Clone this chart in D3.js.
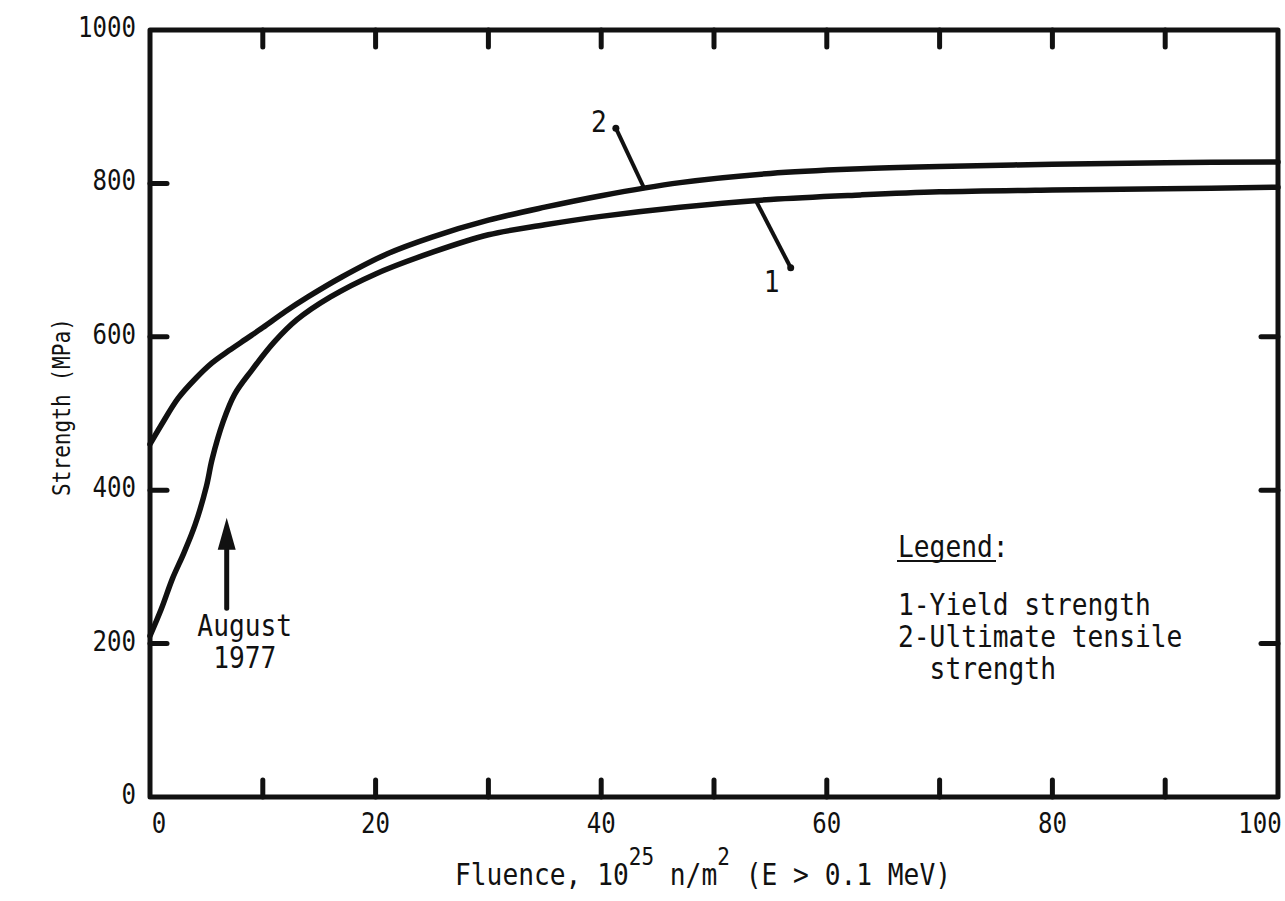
<!DOCTYPE html>
<html>
<head>
<meta charset="utf-8">
<script src="https://cdn.jsdelivr.net/npm/d3@7/dist/d3.min.js"></script>
<style>
  html, body { margin: 0; padding: 0; background: #fff; }
  svg { display: block; }
  text { font-family: "DejaVu Sans Mono", "Liberation Mono", monospace; fill: #111; }
</style>
</head>
<body>
<svg id="chart" width="1285" height="901"></svg>
<script>
// Fluence (10^25 n/m^2) and strength (MPa) along each curve
const utsFluence = [0, 1, 2.5, 4, 5.5, 7, 8.5, 10, 12, 14, 17, 21, 25, 30, 35, 40, 47, 55, 63, 70, 80, 90, 100];
const utsStrength = [460, 485, 520, 545, 566, 582, 597, 612, 633, 652, 678, 708, 730, 752, 769, 784, 801, 813, 819, 822, 825, 827, 828];

const yieldFluence = [0, 1, 2, 3, 4, 5, 5.5, 6.5, 7.5, 9, 11, 13, 16, 20, 25, 30, 35, 40, 47, 55, 63, 70, 80, 90, 100];
const yieldStrength = [210, 245, 285, 318, 355, 405, 440, 490, 525, 556, 593, 622, 652, 682, 710, 733, 746, 757, 769, 779, 785, 789, 791.5, 793, 795];

const xTickValues = [0, 20, 40, 60, 80, 100];
const xMinorTicks = [10, 20, 30, 40, 50, 60, 70, 80, 90];
const yTickValues = [0, 200, 400, 600, 800, 1000];
const yInnerTicks = [200, 400, 600, 800];
const yRightTicks = [200, 400, 600];

const legendLines = ["1-Yield strength", "2-Ultimate tensile", "  strength"];

// Curve callouts: label position and leader line (data units)
const callouts = [
  { label: "2", lx: 39.8, ly: 880, x1: 41.3, y1: 872, x2: 43.8, y2: 794, dotAt: "start" },
  { label: "1", lx: 55.1, ly: 671, x1: 53.7, y1: 778, x2: 56.8, y2: 690, dotAt: "end" }
];

// Arrow marking August 1977
const marker = { x: 6.8, tip: 364, tail: 246, labelX: 8.4, lines: ["August", "1977"] };

const svg = d3.select("#chart");
const plotLeft = 150, plotRight = 1278, plotTop = 30, plotBottom = 797;
const ink = "#111";

const x = d3.scaleLinear().domain([0, 100]).range([plotLeft, plotRight]);
const y = d3.scaleLinear().domain([0, 1000]).range([plotBottom, plotTop]);

// Narrow typewriter-style text: monospace squeezed horizontally
function label(parent, px, py, str, size, anchor, squeeze) {
  const grp = parent.append("g")
    .attr("transform", `translate(${px},${py}) scale(${squeeze || 0.87},1)`);
  return grp.append("text")
    .attr("font-size", size)
    .attr("text-anchor", anchor || "start")
    .attr("xml:space", "preserve").style("white-space", "pre")
    .text(str);
}

// Frame
svg.append("rect")
  .attr("x", plotLeft).attr("y", plotTop)
  .attr("width", plotRight - plotLeft).attr("height", plotBottom - plotTop)
  .attr("fill", "none").attr("stroke", ink).attr("stroke-width", 5)
  .attr("stroke-linejoin", "round");

// Inward ticks: top and bottom
const tickLen = 17;
const g = svg.append("g").attr("stroke", ink).attr("stroke-width", 5).attr("stroke-linecap", "round");
xMinorTicks.forEach(v => {
  g.append("line").attr("x1", x(v)).attr("x2", x(v)).attr("y1", plotTop).attr("y2", plotTop + tickLen);
  g.append("line").attr("x1", x(v)).attr("x2", x(v)).attr("y1", plotBottom).attr("y2", plotBottom - tickLen);
});
// Inward ticks: left and right
yInnerTicks.forEach(v => {
  g.append("line").attr("x1", plotLeft).attr("x2", plotLeft + tickLen).attr("y1", y(v)).attr("y2", y(v));
});
yRightTicks.forEach(v => {
  g.append("line").attr("x1", plotRight).attr("x2", plotRight - tickLen).attr("y1", y(v)).attr("y2", y(v));
});

// Tick labels
xTickValues.forEach(v => {
  let px = x(v);
  if (v === 0) px += 9;
  if (v === 100) px -= 18;
  label(svg, px, 833, String(v), 28, "middle", 0.86);
});
yTickValues.forEach(v => {
  label(svg, 136, y(v) + 7, String(v), 28, "end", 0.86);
});

// Axis titles
const xtG = svg.append("g").attr("transform", "translate(455,885) scale(0.875,1)");
const xt = xtG.append("text").attr("font-size", 30);
xt.append("tspan").text("Fluence, 10");
xt.append("tspan").attr("font-size", 24).attr("dy", -20).text("25");
xt.append("tspan").attr("dy", 20).text(" n/m");
xt.append("tspan").attr("font-size", 24).attr("dy", -20).text("2");
xt.append("tspan").attr("dy", 20).text(" (E > 0.1 MeV)");

svg.append("g")
  .attr("transform", "translate(70, 407) rotate(-90) scale(0.88,1)")
  .append("text")
  .attr("text-anchor", "middle").attr("font-size", 24)
  .text("Strength (MPa)");

// Curves
const line = d3.line().x(d => x(d[0])).y(d => y(d[1])).curve(d3.curveCatmullRom.alpha(0.5));
const utsData = utsFluence.map((f, i) => [f, utsStrength[i]]);
const yieldData = yieldFluence.map((f, i) => [f, yieldStrength[i]]);
[utsData, yieldData].forEach(d => {
  svg.append("path").attr("d", line(d))
    .attr("fill", "none").attr("stroke", ink).attr("stroke-width", 5.5)
    .attr("stroke-linecap", "round").attr("stroke-linejoin", "round");
});

// Callouts
callouts.forEach(c => {
  svg.append("line")
    .attr("x1", x(c.x1)).attr("y1", y(c.y1)).attr("x2", x(c.x2)).attr("y2", y(c.y2))
    .attr("stroke", ink).attr("stroke-width", 4);
  const dx = c.dotAt === "start" ? x(c.x1) : x(c.x2);
  const dy = c.dotAt === "start" ? y(c.y1) : y(c.y2);
  svg.append("circle").attr("cx", dx).attr("cy", dy).attr("r", 3.5).attr("fill", ink);
  label(svg, x(c.lx), y(c.ly) + 10, c.label, 30, "middle", 0.875);
});

// August 1977 arrow
const ax = x(marker.x);
svg.append("line")
  .attr("x1", ax).attr("x2", ax).attr("y1", y(marker.tail)).attr("y2", y(marker.tip) + 28)
  .attr("stroke", ink).attr("stroke-width", 5).attr("stroke-linecap", "round");
svg.append("path")
  .attr("d", `M${ax},${y(marker.tip)} L${ax - 9},${y(marker.tip) + 32} L${ax + 9},${y(marker.tip) + 32} Z`)
  .attr("fill", ink);
marker.lines.forEach((t, i) => {
  label(svg, x(marker.labelX), 636 + i * 32, t, 30, "middle", 0.875);
});

// Legend
label(svg, 898, 557, "Legend:", 30, "start", 0.875);
svg.append("line").attr("x1", 897).attr("x2", 996).attr("y1", 561).attr("y2", 561)
  .attr("stroke", ink).attr("stroke-width", 2);
legendLines.forEach((t, i) => {
  label(svg, 898, 615 + i * 32, t, 30, "start", 0.875);
});
</script>
</body>
</html>
